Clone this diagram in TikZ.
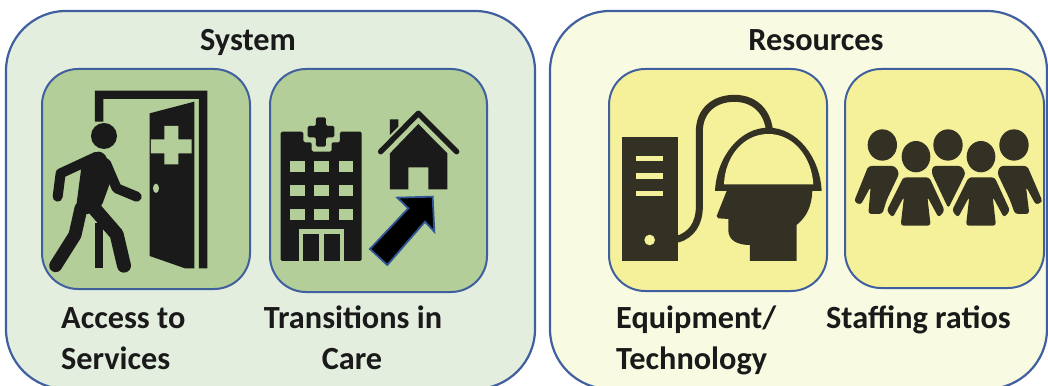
\documentclass[tikz,border=0pt]{standalone}
\usepackage{fontspec}
\setmainfont{Carlito}
\definecolor{panelG}{HTML}{E3EEDF}
\definecolor{panelY}{HTML}{F8FAE2}
\definecolor{tileG}{HTML}{B3CE98}
\definecolor{tileY}{HTML}{F5F09A}
\definecolor{edgeB}{HTML}{3F5F9E}
\definecolor{inkK}{HTML}{1A1A1A}
\definecolor{inkY}{HTML}{333024}
\definecolor{arrowB}{HTML}{2F5597}
\tikzset{
  panel/.style={draw=edgeB,line width=2.2pt,rounded corners=60pt},
  tile/.style={draw=edgeB,line width=2pt,rounded corners=36pt},
  lab/.style={font=\fontsize{32.3}{32.3}\selectfont\bfseries,text=inkK,inner sep=0pt,anchor=base},
  labl/.style={lab,anchor=base west},
  icon/.style={x=0.3333pt,y=-0.3333pt},
  limb/.style={draw=inkK,line cap=round,line join=round,line width=10pt},
}
\newcommand{\gapfill}[2]{%
  \path[draw=#1,line width=3pt,rounded corners=3pt] #2;
  \fill[inkY,rounded corners=3pt] #2;}
\begin{document}
\begin{tikzpicture}[x=1pt,y=-1pt]
\useasboundingbox (0,0) rectangle (1048,385);
\fill[white] (0,0) rectangle (1048,385);
\begin{scope}
\clip (0,0) rectangle (1048,385);
\draw[panel,fill=panelG] (6,11) rectangle (535,389);
\draw[panel,fill=panelY] (550,11) rectangle (1047,389);
\end{scope}
\draw[tile,fill=tileG] (42,69) rectangle (250,289);
\draw[tile,fill=tileG] (270,69) rectangle (487,292);
\draw[tile,fill=tileY] (609,69) rectangle (827,291);
\draw[tile,fill=tileY] (845,69) rectangle (1044,288);

% Access icon
\begin{scope}[icon]
\fill[inkK] (285,365) -- (285,272) -- (622,272) -- (622,805) -- (597,805) -- (597,297) -- (310,297) -- (310,365) -- cycle;
\fill[inkK] (285,670) rectangle (310,805);
\fill[inkK] (449,340) -- (583,305) -- (583,805) -- (555,805) -- (449,768) -- cycle;
\fill[tileG] (453,418) -- (493,418) -- (493,378) -- (535,378) -- (535,418) -- (575,418) -- (575,460) -- (535,460) -- (535,493) -- (493,493) -- (493,460) -- (453,460) -- cycle;
\fill[tileG] (468,565) ellipse [x radius=9,y radius=14];
\fill[inkK] (312,408) circle [radius=39];
\fill[inkK,rounded corners=3pt] (295,452) -- (318,465) -- (335,535) -- (305,618) -- (262,645) -- (228,625) -- (245,495) -- cycle;
\draw[limb] (290,470) -- (182,520) -- (173,590);
\draw[limb] (318,490) -- (350,565) -- (410,590);
\draw[limb,line width=13pt] (243,625) -- (225,705) -- (167,797);
\draw[limb,line width=14pt] (285,628) -- (350,703) -- (372,797);
\end{scope}

% Transitions icon
\begin{scope}[icon,shift={(260pt,-60pt)}]
\fill[inkK,rounded corners=1.5pt] (62,603) -- (62,215) -- (130,215) -- (130,247) -- (155,247) -- (155,275) -- (215,275) -- (215,247) -- (240,247) -- (240,215) -- (305,215) -- (305,603) -- cycle;
\foreach \wx in {90,163,236}\foreach \wy in {303,375,447}
  \fill[tileG] (\wx,\wy) rectangle ++(44,34);
\fill[tileG] (118,508) rectangle (252,604);
\fill[inkK] (130,522) rectangle (178,603);
\fill[inkK] (192,522) rectangle (240,603);
\fill[inkK,rounded corners=1.5pt] (168,172) -- (198,172) -- (198,198) -- (223,198) -- (223,232) -- (198,232) -- (198,260) -- (168,260) -- (168,232) -- (143,232) -- (143,198) -- (168,198) -- cycle;
\draw[inkK,line width=5.5pt,line cap=round,line join=round] (362,275) -- (475,160) -- (590,275);
\fill[inkK] (390,178) -- (415,178) -- (415,200) -- (390,225) -- cycle;
\fill[inkK] (390,280) -- (475,192) -- (562,280) -- (562,388) -- (505,388) -- (505,322) -- (445,322) -- (445,388) -- (390,388) -- cycle;
\filldraw[fill=black,draw=arrowB,line width=1.8pt,line join=miter] (518,410) -- (523,515) -- (495,485) -- (382,615) -- (330,567) -- (445,445) -- (412,413) -- cycle;
\end{scope}

% Equipment icon
\begin{scope}[icon,shift={(600pt,-60pt)}]
\fill[inkY] (65,232) rectangle (235,603);
\foreach \sy in {287,340,392} \fill[tileY] (107,\sy) rectangle ++(83,16);
\fill[tileY] (149,540) circle [radius=16];
\draw[inkY,line width=7pt] (232,538) .. controls (275,525) and (298,490) .. (298,440) -- (298,215) .. controls (298,150) and (345,115) .. (403,115) .. controls (460,115) and (500,150) .. (508,208);
\fill[inkY] (345,393) .. controls (350,290) and (420,203) .. (505,203) .. controls (590,203) and (660,290) .. (665,393) -- cycle;
\fill[tileY] (372,373) .. controls (375,290) and (430,222) .. (505,222) .. controls (580,222) and (635,290) .. (640,373) -- cycle;
\fill[inkY] (380,393) -- (350,468) -- (355,475) -- (385,477) -- (385,510) .. controls (385,540) and (410,555) .. (450,555) -- (450,603) -- (590,603) -- (590,495) .. controls (620,470) and (635,440) .. (637,393) -- cycle;
\end{scope}

% Staffing icon
\begin{scope}[icon,shift={(840pt,-60pt)}]
\fill[inkY] (127,255) ellipse [x radius=44,y radius=47];
\fill[inkY] (324,255) ellipse [x radius=44,y radius=47];
\fill[inkY] (522,255) ellipse [x radius=44,y radius=47];
\fill[inkY,rounded corners=3pt] (85,318) -- (165,318) -- (178,340) -- (140,420) -- (127,462) -- (85,462) -- (92,380) -- (62,435) -- (42,425) -- cycle;
\fill[inkY,rounded corners=3pt] (278,318) -- (365,318) -- (377,340) -- (325,445) -- (275,340) -- cycle;
\fill[inkY,rounded corners=3pt] (480,318) -- (562,318) -- (608,425) -- (588,435) -- (558,380) -- (568,462) -- (525,462) -- (510,420) -- (472,340) -- cycle;
\gapfill{tileY}{(190,352) -- (268,352) -- (314,452) -- (296,473) -- (262,410) -- (272,497) -- (182,497) -- (192,410) -- (158,473) -- (140,452) -- cycle}
\gapfill{tileY}{(386,352) -- (464,352) -- (510,452) -- (492,473) -- (458,410) -- (468,497) -- (378,497) -- (388,410) -- (354,473) -- (336,452) -- cycle}
\fill[inkY] (228,290) ellipse [x radius=43,y radius=47];
\fill[inkY] (423,290) ellipse [x radius=43,y radius=47];
\end{scope}

\node[lab] (sys) at (248,51) {System};
\node[lab] (res) at (816,51) {Resources};
\node[labl] (acc) at (61,328) {Access to};
\node[labl] (ser) at (61,369) {Services};
\node[lab] (tra) at (353,328) {Transitions in};
\node[lab] (car) at (352,369) {Care};
\node[labl] (equ) at (616,328) {Equipment/};
\node[labl] (tec) at (616,369) {Technology};
\node[labl] (sta) at (826,328) {Staffing ratios};
\end{tikzpicture}
\end{document}
